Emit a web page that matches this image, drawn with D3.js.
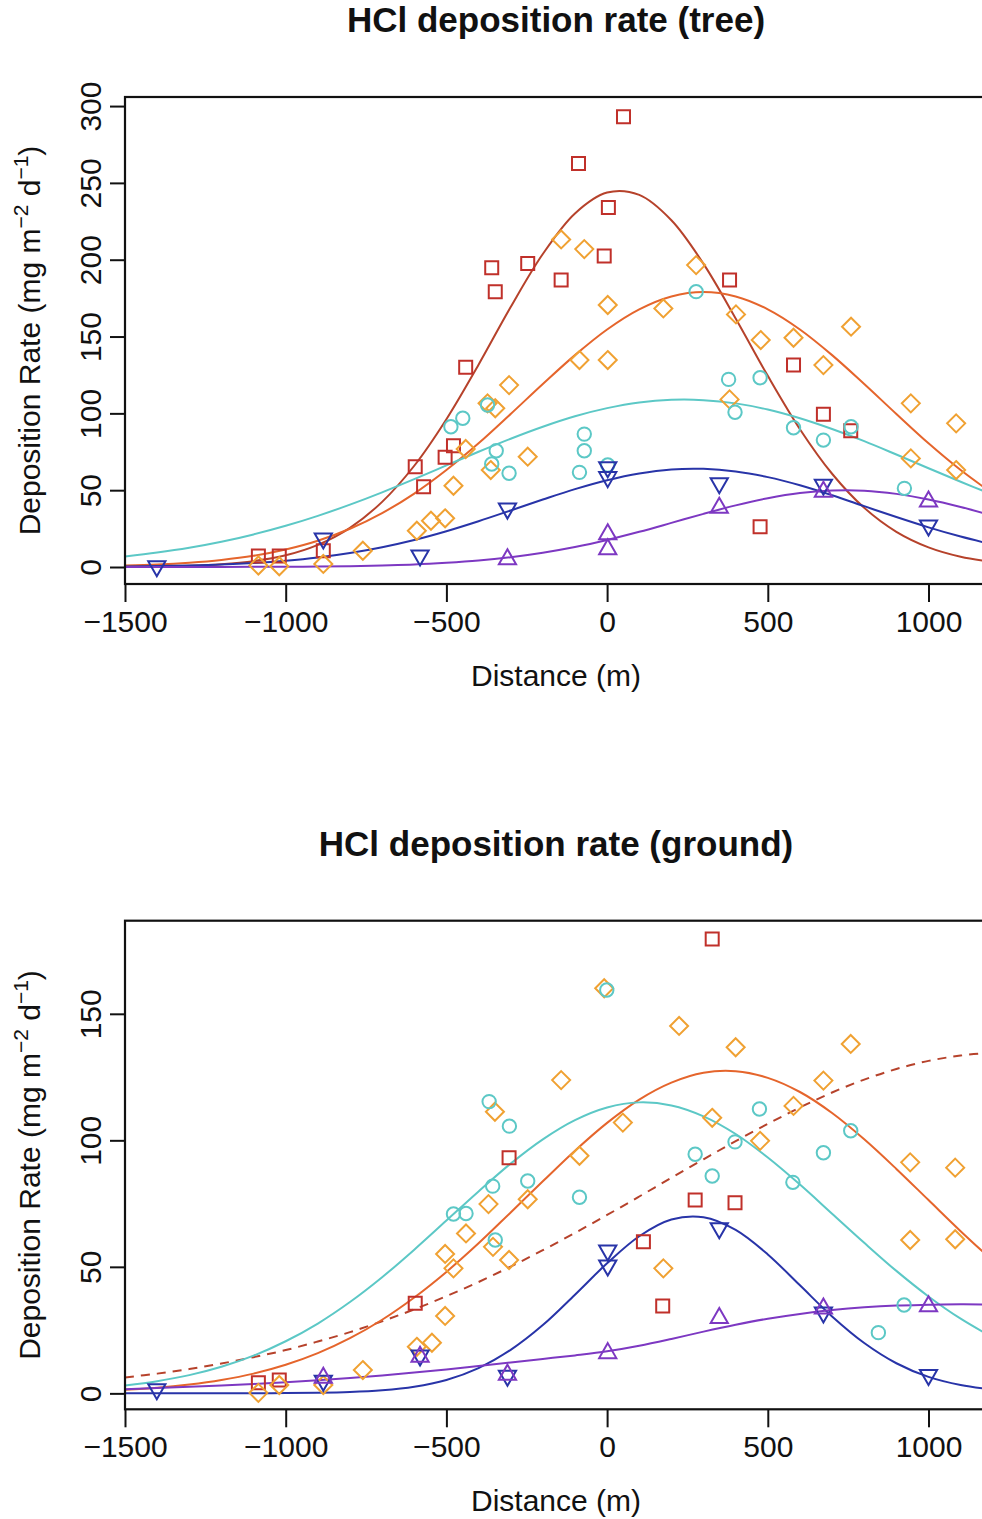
<!DOCTYPE html>
<html>
<head>
<meta charset="utf-8">
<script src="https://cdn.jsdelivr.net/npm/d3@7"></script>
<style>
  body { margin: 0; background: #ffffff; }
  svg { display: block; }
  text { font-family: "Liberation Sans", Arial, Helvetica, sans-serif; fill: #111; }
</style>
</head>
<body>
<div id="chart"></div>
<script>
// HCl deposition rate, tree and ground samplers, with fitted curves

var distanceTicks = [-1500, -1000, -500, 0, 500, 1000];
var treeTicks = [0, 50, 100, 150, 200, 250, 300];
var groundTicks = [0, 50, 100, 150];

var fitDistance = [-1500, -1400, -1300, -1200, -1100, -1000, -900, -800, -700, -600,
  -500, -400, -300, -200, -100, 0, 100, 200, 300, 400, 500, 600, 700, 800, 900,
  1000, 1100, 1200];

// ---- tree panel ----
var treeSquares = [[-1085, 7.1], [-1020, 7.1], [-883, 10.6], [-597, 65.3], [-571, 52.3],
  [-504, 71.4], [-478, 79], [-440, 130], [-359, 194.8], [-348, 179.2], [-247, 197.6],
  [-143, 186.8], [-89, 262.7], [-9, 202.4], [4, 234], [51, 293], [381, 186.8],
  [476, 26.2], [580, 131.4], [673, 99.4], [758, 88.7]];
var treeDiamonds = [[-1085, 1], [-1020, 0.5], [-883, 2], [-760, 10.6], [-592, 23.6],
  [-548, 30.1], [-504, 31.7], [-478, 52.9], [-440, 76.8], [-372, 106.5], [-348, 103.3],
  [-362, 63.1], [-305, 118.4], [-247, 71.8], [-143, 213.2], [-71, 206.9], [-86, 134.7],
  [2, 170.5], [2, 134.7], [175, 168.3], [277, 196.5], [381, 109.1], [401, 164.4],
  [478, 147.7], [580, 149.2], [673, 131.4], [759, 156.4], [945, 106.5], [945, 70.7],
  [1086, 93.5], [1086, 63.1]];
var treeCircles = [[-486, 91.3], [-449, 96.8], [-372, 105.4], [-345, 75.7], [-359, 67],
  [-305, 61], [-71, 86.5], [-71, 75.7], [-86, 61.6], [2, 66.4], [277, 179.2],
  [378, 122.1], [398, 100.7], [476, 123.2], [580, 90.6], [673, 82.6], [759, 91.3],
  [925, 51.2]];
var treeDownTri = [[-1401, 0.5], [-883, 18.5], [-582, 7.5], [-310, 38], [2, 65],
  [2, 58.5], [349, 54.5], [673, 53.5], [1000, 27]];
var treeUpTri = [[-310, 5], [2, 21.3], [2, 11.6], [349, 38.6], [673, 49], [1000, 42.6]];

var treeFitRed = [0.1, 0.3, 0.8, 1.8, 3.8, 7.6, 14.4, 25.5, 42.4, 65.9, 96.2, 131.7,
  169.2, 203.7, 230.1, 243.7, 242.2, 225.7, 197.3, 161.8, 124.4, 89.7, 60.7, 38.5,
  22.9, 12.8, 6.7, 3.3];
var treeFitOrange = [0.9, 1.6, 2.8, 4.6, 7.3, 11.4, 17.1, 24.9, 35.1, 47.8, 63.1, 80.5,
  99.6, 119.1, 137.9, 154.6, 167.7, 176.1, 179.0, 176.1, 167.7, 154.6, 137.9, 119.1,
  99.6, 80.5, 63.1, 47.8];
var treeFitCyan = [6.9, 9.4, 12.5, 16.4, 21.2, 26.8, 33.3, 40.6, 48.6, 57.2, 66.1, 75.0,
  83.5, 91.3, 98.1, 103.4, 107.1, 108.8, 108.6, 106.5, 102.5, 96.8, 89.8, 81.9, 73.2,
  64.3, 55.5, 47.0];
var treeFitBlue = [0.3, 0.6, 1.0, 1.6, 2.6, 4.1, 6.2, 9.1, 12.9, 17.6, 23.3, 29.8, 36.8,
  43.9, 50.7, 56.5, 60.9, 63.5, 63.9, 62.2, 58.5, 53.2, 46.7, 39.6, 32.5, 25.8, 19.8,
  14.6];
var treeFitPurple = [0.0, 0.0, 0.0, 0.0, 0.1, 0.2, 0.3, 0.5, 1.0, 1.6, 2.7, 4.2, 6.4, 9.3,
  13.0, 17.6, 22.9, 28.7, 34.6, 40.1, 44.8, 48.2, 49.8, 49.7, 47.6, 44.0, 39.1, 33.4];

// ---- ground panel ----
var groundSquares = [[-1085, 4.2], [-1020, 5.3], [-597, 35.6], [-305, 93.1], [113, 59.9],
  [173, 34.5], [274, 76.4], [327, 179.6], [398, 75.3]];
var groundDiamonds = [[-1085, 0.2], [-1020, 3.3], [-883, 3.3], [-760, 9.2], [-592, 18.4],
  [-545, 20], [-504, 30.6], [-504, 55.1], [-478, 49.4], [-439, 63.2], [-369, 74.8],
  [-355, 57.9], [-349, 111.3], [-305, 52.7], [-247, 76.7], [-143, 123.8], [-86, 93.9],
  [-9, 160.1], [49, 107], [175, 49.4], [224, 145.2], [327, 108.9], [400, 136.8],
  [476, 99.8], [580, 113.6], [673, 123.6], [758, 138.1], [943, 91.3], [943, 60.6],
  [1083, 89.2], [1083, 60.9]];
var groundCircles = [[-478, 70.9], [-439, 71.1], [-367, 115.3], [-356, 81.9], [-348, 60.6],
  [-304, 105.6], [-247, 83.9], [-86, 77.5], [-1, 159.4], [274, 94.5], [327, 85.9],
  [398, 99.4], [474, 112.4], [578, 83.4], [673, 95.1], [758, 103.8], [844, 24],
  [924, 34.9]];
var groundDownTri = [[-1401, 1.6], [-883, 5], [-582, 15], [-310, 7], [2, 56.5], [2, 50.5],
  [349, 65.3], [673, 32], [1000, 7.3]];
var groundUpTri = [[-883, 6.2], [-582, 14.5], [-310, 7.4], [2, 15.9], [349, 29.8],
  [673, 33.5], [1000, 34.4]];

var groundFitRed = [6.3, 7.8, 9.6, 11.8, 14.3, 17.1, 20.5, 24.2, 28.5, 33.2, 38.4, 44.0,
  50.1, 56.6, 63.4, 70.5, 77.8, 85.2, 92.5, 99.7, 106.5, 113.0, 118.9, 124.0, 128.2,
  131.4, 133.5, 134.8];
var groundFitOrange = [1.4, 2.2, 3.5, 5.3, 7.8, 11.3, 15.9, 21.8, 29.1, 37.9, 48.0, 59.3,
  71.5, 83.8, 95.9, 106.9, 116.1, 122.8, 126.7, 127.3, 124.7, 119.1, 110.8, 100.4, 88.7,
  76.4, 64.1, 52.4];
var groundFitCyan = [3.1, 4.8, 7.2, 10.5, 14.9, 20.6, 27.6, 36.1, 45.9, 56.8, 68.3, 79.8,
  90.8, 100.4, 108.0, 113.0, 115.0, 113.8, 109.5, 102.5, 93.2, 82.5, 71.0, 59.5, 48.4,
  38.3, 29.5, 22.1];
var groundFitBlue = [0.0, 0.0, 0.0, 0.0, 0.0, 0.1, 0.2, 0.5, 1.2, 2.6, 5.3, 10.0, 17.2,
  27.0, 39.0, 51.4, 62.1, 68.7, 69.6, 64.6, 54.9, 42.7, 30.4, 19.9, 11.9, 6.5, 3.3, 1.5];
var groundFitPurple = [1.6, 2.1, 2.6, 3.1, 3.7, 4.4, 5.2, 6.1, 7.1, 8.2, 9.4, 10.8, 12.2,
  13.6, 15.0, 16.6, 18.8, 21.5, 24.4, 27.1, 29.5, 31.4, 32.9, 34.0, 34.7, 35.0, 35.2, 35.1];

// colours
var red = "#c0302a", redLine = "#b6422b";
var orange = "#f0a132", orangeLine = "#e5652c";
var cyan = "#5cc8c6";
var blue = "#2834a8";
var purple = "#7d38c2";

var width = 982;
var height = 1519;
var plotLeft = 125;
var plotRight = 987;

var svg = d3.select("#chart").append("svg")
  .attr("width", width)
  .attr("height", height)
  .style("overflow", "hidden");

svg.append("rect").attr("width", width).attr("height", height).attr("fill", "#ffffff");

// marker outlines, centred on the data point
function symbolPath(shape) {
  if (shape == "square") return "M-6.5,-6.5h13v13h-13z";
  if (shape == "diamond") return "M0,-9L9,0L0,9L-9,0Z";
  if (shape == "up") return "M0,-10L8.6,5L-8.6,5Z";
  if (shape == "down") return "M0,10L8.6,-5L-8.6,-5Z";
  var p = d3.path();
  p.arc(0, 0, 6.7, 0, 2 * Math.PI);
  p.closePath();
  return p.toString();
}

function makePanel(opts) {
  var x = d3.scaleLinear().domain([-1500, 1182]).range([plotLeft, plotRight]);
  var y = d3.scaleLinear().domain(opts.yDomain).range([opts.bottom, opts.top]);

  var g = svg.append("g").attr("class", "panel-" + opts.id);

  // title
  g.append("text")
    .attr("x", 556)
    .attr("y", opts.top - 65)
    .attr("text-anchor", "middle")
    .style("font-size", "35px")
    .style("font-weight", "bold")
    .text(opts.title);

  g.append("clipPath").attr("id", "clip-" + opts.id)
    .append("rect")
    .attr("x", plotLeft).attr("y", opts.top)
    .attr("width", plotRight - plotLeft).attr("height", opts.bottom - opts.top);

  // fitted curves
  var line = d3.line()
    .x(function(d, i) { return x(fitDistance[i]); })
    .y(function(d) { return y(d); })
    .curve(d3.curveCatmullRom.alpha(0.5));

  var curves = g.append("g").attr("clip-path", "url(#clip-" + opts.id + ")");
  opts.series.forEach(function(s) {
    curves.append("path")
      .datum(s.fit)
      .attr("d", line)
      .attr("fill", "none")
      .attr("stroke", s.lineColor)
      .attr("stroke-width", 2)
      .attr("stroke-dasharray", s.dashed ? "9,7" : null);
  });

  // observed points
  opts.series.forEach(function(s) {
    g.append("g").selectAll("path")
      .data(s.points)
      .enter().append("path")
      .attr("d", symbolPath(s.shape))
      .attr("transform", function(d) {
        return "translate(" + x(d[0]) + "," + y(d[1]) + ")";
      })
      .attr("fill", "none")
      .attr("stroke", s.color)
      .attr("stroke-width", 2);
  });

  // frame
  g.append("rect")
    .attr("x", plotLeft).attr("y", opts.top)
    .attr("width", plotRight - plotLeft).attr("height", opts.bottom - opts.top)
    .attr("fill", "none")
    .attr("stroke", "#111")
    .attr("stroke-width", 2.2);

  // x axis
  var xAxis = g.append("g")
    .attr("transform", "translate(0," + opts.bottom + ")")
    .call(d3.axisBottom(x)
      .tickValues(distanceTicks)
      .tickSize(18)
      .tickFormat(function(d) { return d < 0 ? "\u2212" + Math.abs(d) : d; }));
  xAxis.select(".domain").remove();
  xAxis.selectAll(".tick line").attr("stroke", "#111").attr("stroke-width", 2);
  xAxis.selectAll(".tick text")
    .attr("y", 48)
    .attr("dy", 0)
    .style("font-size", "30px")
    .attr("fill", "#111");

  // y axis, labels turned parallel to the axis
  var yAxis = g.append("g")
    .attr("transform", "translate(" + plotLeft + ",0)")
    .call(d3.axisLeft(y).tickValues(opts.yTicks).tickSize(15));
  yAxis.select(".domain").remove();
  yAxis.selectAll(".tick line").attr("stroke", "#111").attr("stroke-width", 2);
  yAxis.selectAll(".tick text")
    .attr("x", 0)
    .attr("y", 0)
    .attr("dy", 0)
    .attr("text-anchor", "middle")
    .attr("transform", "translate(-24,0) rotate(-90)")
    .style("font-size", "30px")
    .attr("fill", "#111");

  // axis titles
  g.append("text")
    .attr("x", 556)
    .attr("y", opts.bottom + 102)
    .attr("text-anchor", "middle")
    .style("font-size", "30px")
    .text("Distance (m)");

  var yTitle = g.append("text")
    .attr("text-anchor", "middle")
    .attr("transform", "translate(40," + ((opts.top + opts.bottom) / 2) + ") rotate(-90)")
    .style("font-size", "30px");
  yTitle.append("tspan").text("Deposition Rate (mg m");
  yTitle.append("tspan").attr("dy", -12).style("font-size", "21px").text("\u22122");
  yTitle.append("tspan").attr("dy", 12).text(" d");
  yTitle.append("tspan").attr("dy", -12).style("font-size", "21px").text("\u22121");
  yTitle.append("tspan").attr("dy", 12).text(")");
}

makePanel({
  id: "tree",
  title: "HCl deposition rate (tree)",
  top: 97,
  bottom: 584,
  yDomain: [-11.06, 305.9],
  yTicks: treeTicks,
  series: [
    {points: treeSquares, fit: treeFitRed, shape: "square", color: red, lineColor: redLine},
    {points: treeDiamonds, fit: treeFitOrange, shape: "diamond", color: orange, lineColor: orangeLine},
    {points: treeCircles, fit: treeFitCyan, shape: "circle", color: cyan, lineColor: cyan},
    {points: treeDownTri, fit: treeFitBlue, shape: "down", color: blue, lineColor: blue},
    {points: treeUpTri, fit: treeFitPurple, shape: "up", color: purple, lineColor: purple}
  ]
});

makePanel({
  id: "ground",
  title: "HCl deposition rate (ground)",
  top: 920.7,
  bottom: 1409.3,
  yDomain: [-6.3, 186.8],
  yTicks: groundTicks,
  series: [
    {points: groundSquares, fit: groundFitRed, shape: "square", color: red, lineColor: redLine, dashed: true},
    {points: groundDiamonds, fit: groundFitOrange, shape: "diamond", color: orange, lineColor: orangeLine},
    {points: groundCircles, fit: groundFitCyan, shape: "circle", color: cyan, lineColor: cyan},
    {points: groundDownTri, fit: groundFitBlue, shape: "down", color: blue, lineColor: blue},
    {points: groundUpTri, fit: groundFitPurple, shape: "up", color: purple, lineColor: purple}
  ]
});
</script>
</body>
</html>
